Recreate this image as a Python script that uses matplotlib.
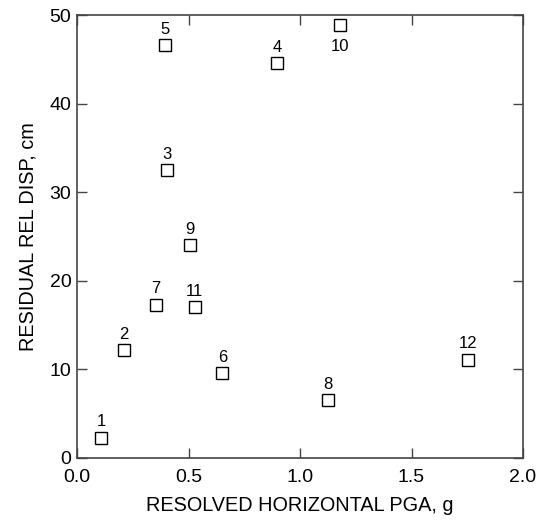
import matplotlib
matplotlib.use("Agg")
import matplotlib.pyplot as plt

plt.rcParams['font.family'] = ['Liberation Sans', 'DejaVu Sans']

labels = ['1', '2', '3', '4', '5', '6', '7', '8', '9', '10', '11', '12']
pga = [0.108, 0.211, 0.405, 0.897, 0.395, 0.652, 0.354, 1.124, 0.507, 1.179, 0.528, 1.755]
disp = [2.3, 12.2, 32.5, 44.6, 46.6, 9.6, 17.3, 6.5, 24.0, 48.9, 17.0, 11.1]
label_below = ['10']

fig = plt.figure(figsize=(5.42, 5.28), dpi=100)
ax = fig.add_axes([77/542, 1 - 458/528, (523-77)/542, (458-15)/528])

ax.plot(pga, disp, linestyle='none', marker='s', markersize=8.5,
        markerfacecolor='white', markeredgecolor='black', markeredgewidth=1.0)

for lab, x, y in zip(labels, pga, disp):
    if lab in label_below:
        ax.annotate(lab, (x, y), xytext=(0, -10), textcoords='offset points',
                    ha='center', va='top', fontsize=12)
    else:
        ax.annotate(lab, (x, y), xytext=(0, 6), textcoords='offset points',
                    ha='center', va='bottom', fontsize=12)

ax.set_xlim(0, 2.0)
ax.set_ylim(0, 50)
ax.set_xticks([0.0, 0.5, 1.0, 1.5, 2.0])
ax.set_xticklabels(['0.0', '0.5', '1.0', '1.5', '2.0'])
ax.set_yticks([0, 10, 20, 30, 40, 50])
ax.tick_params(direction='in', length=7.5, width=1, top=True, right=True,
               labelsize=14, color='#444444')
ax.tick_params(axis='x', pad=8)
ax.tick_params(axis='y', pad=4)
for s in ax.spines.values():
    s.set_linewidth(1.2)
    s.set_color('#444444')

ax.set_xlabel('RESOLVED HORIZONTAL PGA, g', fontsize=14.3, labelpad=7)
ax.set_ylabel('RESIDUAL REL DISP, cm', fontsize=14.3, labelpad=9)

fig.savefig('out.png', dpi=100)
